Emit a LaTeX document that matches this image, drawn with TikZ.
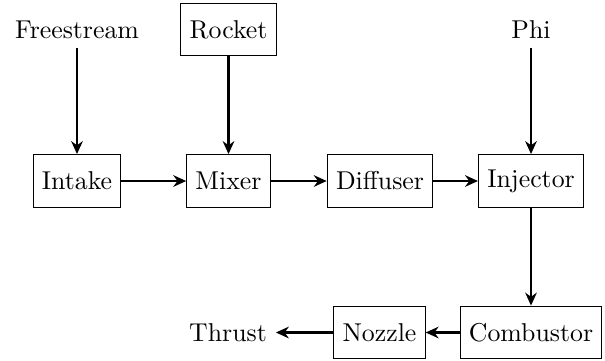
\documentclass[tikz,border=0pt]{standalone}
\usetikzlibrary{arrows.meta}
\begin{document}
\begin{tikzpicture}[x=0.3876pt,y=-0.3876pt,
  blk/.style={draw,line width=0.4pt,minimum height=20.5pt,inner xsep=3.4pt},
  lbl/.style={inner sep=3.33pt},
  flow/.style={-{Stealth[length=5pt,width=4.5pt]},line width=1pt}]
\useasboundingbox (0,0) rectangle (605,360);
\node[lbl] (fs) at (77,29.5) {Freestream};
\node[blk] (rk) at (228.5,29.5) {Rocket};
\node[lbl] (phi) at (531,29.5) {Phi};
\node[blk] (in) at (77,181) {Intake};
\node[blk] (mx) at (228.5,181) {Mixer};
\node[blk] (df) at (380,181) {Diffuser};
\node[blk] (ij) at (531,181) {Injector};
\node[blk] (cb) at (531,332.5) {Combustor};
\node[blk] (nz) at (379.5,332.5) {Nozzle};
\node[lbl] (th) at (228,332.5) {Thrust};
\draw[flow] (fs) -- (in);
\draw[flow] (rk) -- (mx);
\draw[flow] (phi) -- (ij);
\draw[flow] (in) -- (mx);
\draw[flow] (mx) -- (df);
\draw[flow] (df) -- (ij);
\draw[flow] (ij) -- (cb);
\draw[flow] (cb) -- (nz);
\draw[flow] (nz) -- (th);
\end{tikzpicture}
\end{document}
